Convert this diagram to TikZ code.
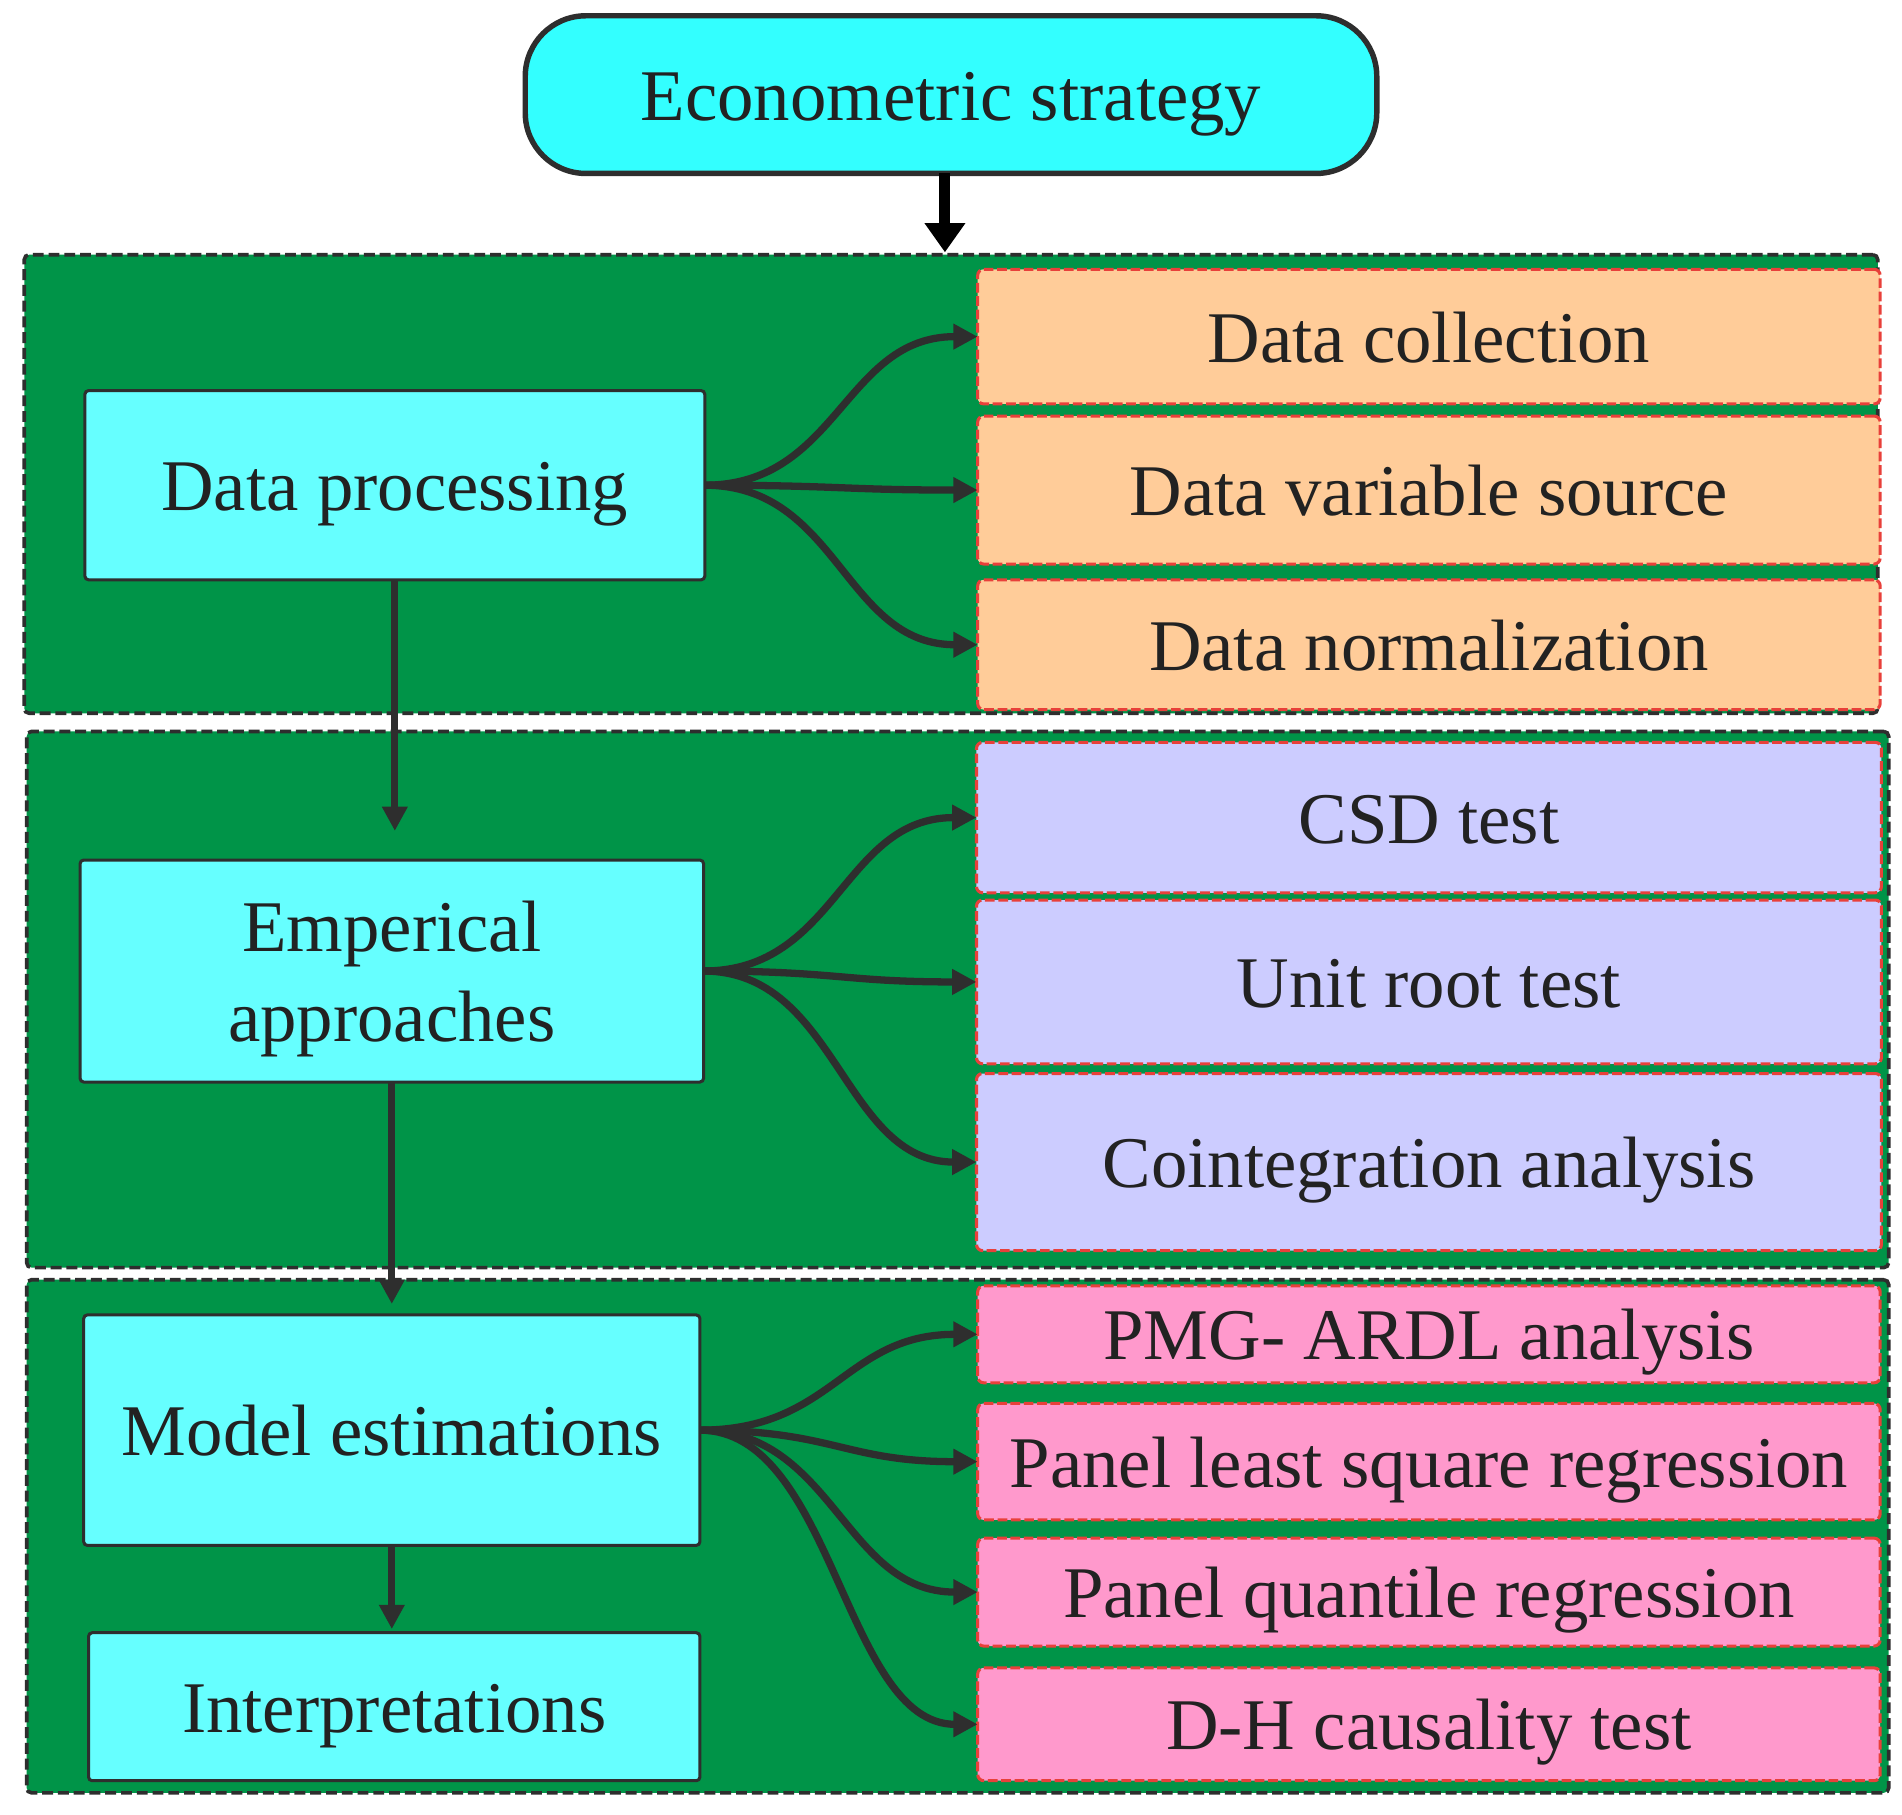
\documentclass[tikz,border=0pt]{standalone}
\usepackage{fontspec}
\setmainfont{Liberation Serif}
\usetikzlibrary{arrows.meta}
\definecolor{topcyan}{HTML}{33FFFF}
\definecolor{boxcyan}{HTML}{66FFFF}
\definecolor{panelgreen}{HTML}{009448}
\definecolor{orangebox}{HTML}{FFCC99}
\definecolor{purplebox}{HTML}{CCCCFF}
\definecolor{pinkbox}{HTML}{FF99CC}
\definecolor{txt}{HTML}{222222}
\definecolor{ln}{HTML}{2E2E2E}
\definecolor{dashred}{HTML}{E8403A}
\begin{document}
\begin{tikzpicture}[x=1pt,y=-1pt,
  every node/.style={inner sep=0pt, outer sep=0pt, text=txt,
    font=\fontsize{60}{75}\selectfont, text height=50pt, text depth=8pt},
  topbox/.style={draw=ln, line width=4.5pt, fill=topcyan, rounded corners=50pt},
  panel/.style={draw=ln, line width=3pt, fill=panelgreen, dash pattern=on 9pt off 4pt, rounded corners=4pt},
  leftbox/.style={draw=ln, line width=2.5pt, fill=boxcyan, rounded corners=3pt, align=center},
  rbox/.style={draw=dashred, line width=2.5pt, dash pattern=on 8pt off 3pt, rounded corners=5pt},
  obox/.style={rbox, fill=orangebox},
  pbox/.style={rbox, fill=purplebox},
  kbox/.style={rbox, fill=pinkbox},
  conn/.style={draw=ln, line width=6pt, -{Triangle[length=20pt,width=20pt]}},
  bigarrow/.style={draw=black, line width=9pt, -{Triangle[length=24pt,width=32pt]}}
]
\useasboundingbox (0,0) rectangle (1568,1495.5);

% panels
\node[panel, minimum width=1528pt, minimum height=378pt] (P1) at (784,399) {};
\node[panel, minimum width=1535pt, minimum height=442pt] (P2) at (789.5,824) {};
\node[panel, minimum width=1535pt, minimum height=423pt] (P3) at (789.5,1266.5) {};

% top
\node[topbox, minimum width=702pt, minimum height=130pt] (top) at (784,78) {Econometric strategy};
\coordinate (topin) at (779,208);
\draw[bigarrow] ([xshift=-5pt]top.south) -- (topin);

% right boxes
\node[obox, minimum width=744pt, minimum height=111pt] (o1) at (1178,277.5) {Data collection};
\node[obox, minimum width=744pt, minimum height=122pt] (o2) at (1178,404) {Data variable source};
\node[obox, minimum width=744pt, minimum height=107pt] (o3) at (1178,531.5) {Data normalization};

\node[pbox, minimum width=746pt, minimum height=124pt] (p1) at (1178,674) {CSD test};
\node[pbox, minimum width=746pt, minimum height=135pt] (p2) at (1178,809.5) {Unit root test};
\node[pbox, minimum width=746pt, minimum height=146pt] (p3) at (1178,958) {Cointegration analysis};

\node[kbox, minimum width=744pt, minimum height=80pt] (k1) at (1178,1100) {PMG- ARDL analysis};
\node[kbox, minimum width=744pt, minimum height=96pt] (k2) at (1178,1205) {Panel least square regression};
\node[kbox, minimum width=744pt, minimum height=89pt] (k3) at (1178,1312.5) {Panel quantile regression};
\node[kbox, minimum width=744pt, minimum height=93pt] (k4) at (1178,1421.5) {D-H causality test};

% left boxes
\node[leftbox, minimum width=511pt, minimum height=156pt] (dp) at (325.5,400) {Data processing};
\node[leftbox, minimum width=514pt, minimum height=183pt, text height=125pt] (ea) at (323,800.5) {Emperical\\approaches};
\node[leftbox, minimum width=508pt, minimum height=190pt] (me) at (323,1179) {Model estimations};
\node[leftbox, minimum width=504pt, minimum height=122pt] (ip) at (325,1407) {Interpretations};

% vertical arrows
\draw[conn] (dp.south) -- ([yshift=24pt]dp.south |- ea.north);
\draw[conn] (ea.south) -- ([yshift=9pt]ea.south |- me.north);
\draw[conn] (me.south) -- ([yshift=3pt]me.south |- ip.north);

% fan-out arrows
\foreach \t in {o1,o2,o3}
  \draw[conn] (dp.east) .. controls +(110,0) and +(-110,0) .. (\t.west);
\foreach \t in {p1,p2,p3}
  \draw[conn] (ea.east) .. controls +(110,0) and +(-110,0) .. (\t.west);
\foreach \t in {k1,k2,k3,k4}
  \draw[conn] (me.east) .. controls +(110,0) and +(-110,0) .. (\t.west);
\end{tikzpicture}
\end{document}
